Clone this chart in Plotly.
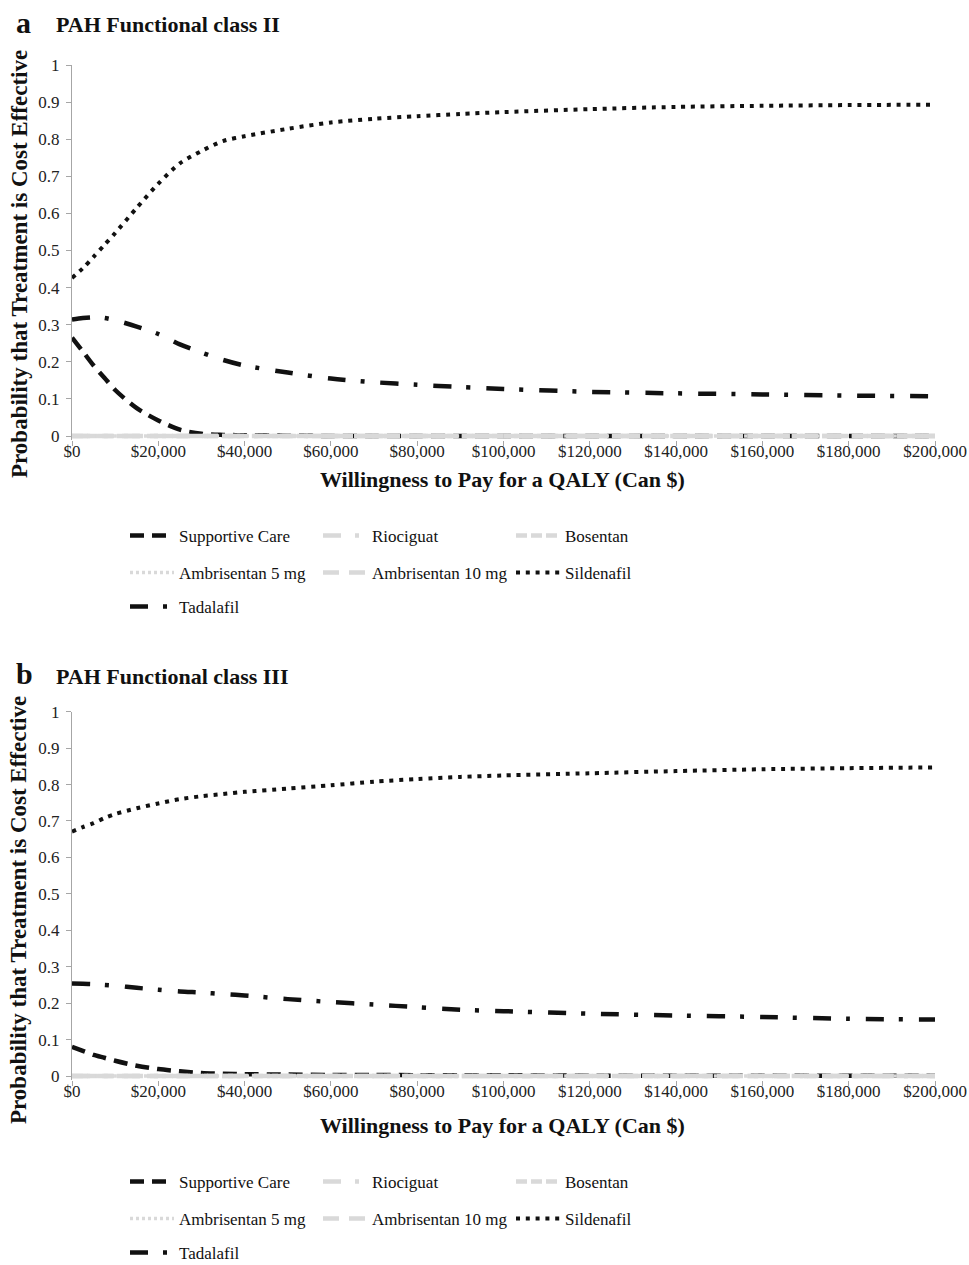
import plotly.graph_objects as go

W, H = 969, 1265
OFF = 0  # body margin removed via post_script

# ---------------- data ----------------
wtp = [0, 2500, 5000, 7500, 10000, 15000, 20000, 25000, 30000, 35000, 40000,
       50000, 60000, 70000, 80000, 90000, 100000, 120000, 140000, 160000,
       180000, 200000]

series_names = ["Supportive Care", "Riociguat", "Bosentan", "Ambrisentan 5 mg",
                "Ambrisentan 10 mg", "Sildenafil", "Tadalafil"]

# Panel a: PAH Functional class II
a_supportive = [0.265, 0.228, 0.190, 0.157, 0.124, 0.075, 0.042, 0.017, 0.006, 0.003, 0.002,
                0.001, 0.0, 0.0, 0.0, 0.0, 0.0, 0.0, 0.0, 0.0, 0.0, 0.0]
a_riociguat = [0.0] * 22
a_bosentan = [0.0] * 22
a_ambri5 = [0.0] * 22
a_ambri10 = [0.0] * 22
a_sildenafil = [0.426, 0.452, 0.483, 0.515, 0.547, 0.615, 0.680, 0.735, 0.768, 0.795, 0.808,
                0.828, 0.845, 0.855, 0.862, 0.868, 0.873, 0.881, 0.887, 0.890, 0.892, 0.893]
a_tadalafil = [0.314, 0.318, 0.320, 0.318, 0.312, 0.295, 0.275, 0.247, 0.225, 0.205, 0.190,
               0.171, 0.155, 0.145, 0.138, 0.132, 0.127, 0.119, 0.115, 0.112, 0.109, 0.107]

# Panel b: PAH Functional class III
b_supportive = [0.080, 0.069, 0.058, 0.050, 0.042, 0.028, 0.019, 0.013, 0.008, 0.006, 0.005,
                0.004, 0.003, 0.003, 0.002, 0.002, 0.002, 0.001, 0.001, 0.001, 0.001, 0.001]
b_riociguat = [0.0] * 22
b_bosentan = [0.0] * 22
b_ambri5 = [0.0] * 22
b_ambri10 = [0.0] * 22
b_sildenafil = [0.671, 0.683, 0.694, 0.708, 0.719, 0.735, 0.748, 0.760, 0.768, 0.774, 0.780,
                0.789, 0.798, 0.808, 0.815, 0.821, 0.825, 0.831, 0.837, 0.842, 0.845, 0.847]
b_tadalafil = [0.254, 0.253, 0.252, 0.250, 0.248, 0.242, 0.237, 0.232, 0.229, 0.225, 0.221,
               0.211, 0.203, 0.196, 0.189, 0.182, 0.178, 0.171, 0.166, 0.162, 0.157, 0.155]

panel_a = [a_supportive, a_riociguat, a_bosentan, a_ambri5, a_ambri10, a_sildenafil, a_tadalafil]
panel_b = [b_supportive, b_riociguat, b_bosentan, b_ambri5, b_ambri10, b_sildenafil, b_tadalafil]

x_tickvals = [0, 20000, 40000, 60000, 80000, 100000, 120000, 140000, 160000, 180000, 200000]
x_ticktext = ["$0", "$20,000", "$40,000", "$60,000", "$80,000", "$100,000",
              "$120,000", "$140,000", "$160,000", "$180,000", "$200,000"]
y_tickvals = [0, 0.1, 0.2, 0.3, 0.4, 0.5, 0.6, 0.7, 0.8, 0.9, 1]
y_ticktext = ["0", "0.1", "0.2", "0.3", "0.4", "0.5", "0.6", "0.7", "0.8", "0.9", "1"]

panel_titles = ["PAH Functional class II", "PAH Functional class III"]
panel_letters = ["a", "b"]
x_title = "Willingness to Pay for a QALY (Can $)"
y_title = "Probability that Treatment is Cost Effective"

# ---------------- styles ----------------
BLACK = "#111111"
GRAY = "#d9d9d9"
styles = {
    "Supportive Care": dict(color=BLACK, width=4.5, dash="14px,8px"),
    "Riociguat": dict(color=GRAY, width=4.5, dash="18px,14px,4px,14px"),
    "Bosentan": dict(color=GRAY, width=4.5, dash="11px,4px"),
    "Ambrisentan 5 mg": dict(color=GRAY, width=3.5, dash="3px,3px"),
    "Ambrisentan 10 mg": dict(color=GRAY, width=4.5, dash="16px,10px"),
    "Sildenafil": dict(color=BLACK, width=4, dash="4px,5.8px"),
    "Tadalafil": dict(color=BLACK, width=4.5, dash="18px,15px,4px,16px"),
}
legend_row = {"Supportive Care": 0, "Riociguat": 0, "Bosentan": 0,
              "Ambrisentan 5 mg": 1, "Ambrisentan 10 mg": 1, "Sildenafil": 1,
              "Tadalafil": 2}

FONT = "Liberation Serif, Times New Roman, serif"

def px_x(p):
    return (p - OFF) / W

def px_y(p):
    return 1 - (p - OFF) / H

# pixel geometry of the two plot areas: (y of value 1, y of value 0)
panels_px = [(65.0, 436.0), (711.7, 1076.0)]
x_left_px, x_right_px = 72.0, 935.0
ypad = 0.012

fig = go.Figure()

legend_names = [["legend", "legend2", "legend3"], ["legend4", "legend5", "legend6"]]

for pi, (panel, (top_px, zero_px)) in enumerate(zip([panel_a, panel_b], panels_px)):
    xa = "x" if pi == 0 else "x2"
    ya = "y" if pi == 0 else "y2"
    for name, vals in zip(series_names, panel):
        st = styles[name]
        fig.add_trace(go.Scatter(
            x=wtp, y=vals, name=name, mode="lines",
            line=dict(color=st["color"], width=st["width"], dash=st["dash"],
                      shape="spline", smoothing=0.8),
            xaxis=xa, yaxis=ya,
            legend=legend_names[pi][legend_row[name]],
            hoverinfo="skip",
        ))

axis_common = dict(showgrid=False, zeroline=False, ticks="outside", ticklen=5,
                   tickcolor="#a6a6a6", automargin=False,
                   tickfont=dict(family=FONT, size=17, color="#222222"))

layout = dict(
    width=W, height=H,
    margin=dict(l=0, r=0, t=0, b=0, autoexpand=False),
    paper_bgcolor="white", plot_bgcolor="white",
    showlegend=True,
    font=dict(family=FONT, color="#111111"),
)

for pi, (top_px, zero_px) in enumerate(panels_px):
    scale = zero_px - top_px
    bottom_px = zero_px + ypad * scale
    xkey = "xaxis" if pi == 0 else "xaxis2"
    ykey = "yaxis" if pi == 0 else "yaxis2"
    layout[xkey] = dict(axis_common, domain=[px_x(x_left_px), px_x(x_right_px)],
                        range=[0, 200000], tickvals=x_tickvals, ticktext=x_ticktext,
                        showline=False, ticklabelstandoff=-10,
                        anchor="y" if pi == 0 else "y2")
    layout[ykey] = dict(axis_common, domain=[px_y(bottom_px), px_y(top_px)],
                        range=[-ypad, 1], tickvals=y_tickvals, ticktext=y_ticktext,
                        showline=True, linecolor="#a6a6a6", linewidth=1,
                        ticklabelstandoff=3,
                        anchor="x" if pi == 0 else "x2")

# legends: one per row
legend_rows_px = [[536, 573, 607], [1182, 1219, 1253]]
for pi in range(2):
    for ri in range(3):
        layout[legend_names[pi][ri]] = dict(
            orientation="h", x=px_x(125), xanchor="left",
            y=px_y(legend_rows_px[pi][ri]), yanchor="middle",
            entrywidth=134, entrywidthmode="pixels", itemwidth=44,
            font=dict(family=FONT, size=17, color="#111111"),
            bgcolor="rgba(0,0,0,0)", borderwidth=0, traceorder="normal",
        )

annotations = []
title_px = [(22, 24), (673, 676)]
xtitle_px = [479, 1125]
ytitle_px = [264, 910]
for pi in range(2):
    annotations.append(dict(text="<b>%s</b>" % panel_letters[pi], x=px_x(14), y=px_y(title_px[pi][0]),
                            xref="paper", yref="paper", xanchor="left", yanchor="middle",
                            showarrow=False, font=dict(family=FONT, size=30, color="#111111")))
    annotations.append(dict(text="<b>%s</b>" % panel_titles[pi], x=px_x(54), y=px_y(title_px[pi][1]),
                            xref="paper", yref="paper", xanchor="left", yanchor="middle",
                            showarrow=False, font=dict(family=FONT, size=22, color="#111111")))
    annotations.append(dict(text="<b>%s</b>" % x_title, x=px_x(503), y=px_y(xtitle_px[pi]),
                            xref="paper", yref="paper", xanchor="center", yanchor="middle",
                            showarrow=False, font=dict(family=FONT, size=22, color="#111111")))
    annotations.append(dict(text="<b>%s</b>" % y_title, x=px_x(19), y=px_y(ytitle_px[pi]),
                            xref="paper", yref="paper", xanchor="center", yanchor="middle",
                            textangle=-90, showarrow=False,
                            font=dict(family=FONT, size=23, color="#111111")))
layout["annotations"] = annotations

fig.update_layout(**layout)
fig.write_html("out.html",
               config={"displayModeBar": False},
               post_script="document.body.style.margin='0px';"
                           "document.body.style.overflow='hidden';")
